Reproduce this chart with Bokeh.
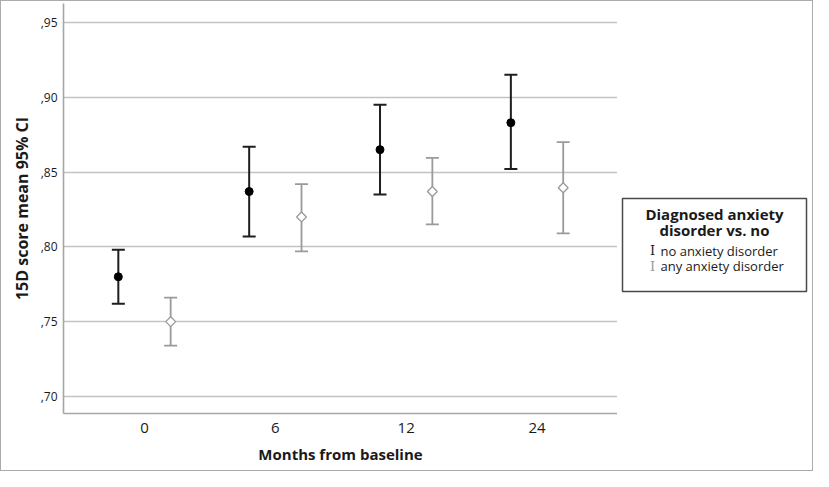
import math
from bokeh.plotting import figure
from bokeh.models import FixedTicker, Range1d, Label, Row, BoxAnnotation
from bokeh.embed import file_html
from bokeh.resources import INLINE

# ---- data ----
months = ["0", "6", "12", "24"]
no_mean = [0.780, 0.837, 0.865, 0.883]
no_low = [0.762, 0.807, 0.835, 0.852]
no_high = [0.798, 0.867, 0.895, 0.915]
any_mean = [0.750, 0.820, 0.837, 0.8395]
any_low = [0.734, 0.797, 0.815, 0.809]
any_high = [0.766, 0.842, 0.8595, 0.870]
y_ticks = [0.70, 0.75, 0.80, 0.85, 0.90, 0.95]
y_tick_labels = [",70", ",75", ",80", ",85", ",90", ",95"]
series_names = ["no anxiety disorder", "any anxiety disorder"]
legend_title = ["Diagnosed anxiety", "disorder vs. no"]

FONT = "Open Sans"
TXT = "#1a1a1a"
BLACK = "#1e1e1e"
GRAY = "#9a9a9a"

TOP, BOTTOM = 2, 57

p = figure(width=616, height=469, output_backend="svg", toolbar_location=None,
           x_range=Range1d(-0.619, 3.615), y_range=Range1d(0.6886, 0.9627),
           min_border_left=62, min_border_right=0, min_border_top=TOP,
           min_border_bottom=BOTTOM)
p.outline_line_color = None
p.background_fill_color = "white"
p.border_fill_color = "white"

p.xgrid.visible = False
p.ygrid.grid_line_color = "#c2c2c2"
p.ygrid.grid_line_width = 1.3

idx = list(range(len(months)))
p.xaxis.ticker = FixedTicker(ticks=idx)
p.xaxis.major_label_overrides = {i: m for i, m in zip(idx, months)}
p.yaxis.ticker = FixedTicker(ticks=y_ticks)
p.yaxis.major_label_overrides = {t: l for t, l in zip(y_ticks, y_tick_labels)}

for ax in (p.xaxis, p.yaxis):
    ax.axis_line_color = "#a6a6a6"
    ax.axis_line_width = 1.6
    ax.major_tick_line_color = None
    ax.minor_tick_line_color = None
    ax.major_tick_out = 0
    ax.major_tick_in = 0
    ax.major_label_text_font = FONT
    ax.major_label_text_color = TXT
    ax.axis_label_text_font = FONT
    ax.axis_label_text_font_style = "bold"
    ax.axis_label_text_color = TXT

p.xaxis.major_label_text_font_size = "15px"
p.yaxis.major_label_text_font_size = "12px"
p.xaxis.axis_label_text_font_size = "15px"
p.yaxis.axis_label_text_font_size = "16px"
p.xaxis.axis_label = "Months from baseline"
p.yaxis.axis_label = "15D score mean 95% CI"
p.xaxis.major_label_standoff = 9
p.yaxis.major_label_standoff = 6
p.xaxis.axis_label_standoff = 8
p.yaxis.axis_label_standoff = 5

off = 0.2
x_no = [i - off for i in idx]
x_any = [i + off for i in idx]

# black series
p.segment(x0=x_no, y0=no_low, x1=x_no, y1=no_high, line_color=BLACK, line_width=2)
p.scatter(x_no, no_high, marker="dash", size=13, line_color=BLACK, line_width=2)
p.scatter(x_no, no_low, marker="dash", size=13, line_color=BLACK, line_width=2)
p.scatter(x_no, no_mean, marker="circle", size=8, fill_color="black", line_color="black")

# gray series
p.segment(x0=x_any, y0=any_low, x1=x_any, y1=any_high, line_color=GRAY, line_width=1.8)
p.scatter(x_any, any_high, marker="dash", size=13, line_color=GRAY, line_width=1.8)
p.scatter(x_any, any_low, marker="dash", size=13, line_color=GRAY, line_width=1.8)
p.scatter(x_any, any_mean, marker="square", angle=math.pi / 4, size=7,
          fill_color="white", line_color=GRAY, line_width=1.3)

# ---- legend panel: same vertical frame as the main plot ----
FRAME_H = 469 - TOP - BOTTOM
lg = figure(width=195, height=469, output_backend="svg", toolbar_location=None,
            x_range=Range1d(0, 195), y_range=Range1d(0, FRAME_H),
            x_axis_type=None, y_axis_type=None,
            min_border_left=0, min_border_right=0, min_border_top=TOP,
            min_border_bottom=BOTTOM)
lg.grid.visible = False
lg.outline_line_color = None
lg.background_fill_color = "white"
lg.border_fill_color = "white"

# box at image y 198..291  (frame bottom at image 1+TOP+FRAME_H)
fb = 1 + TOP + FRAME_H
BX0, BX1, BY0, BY1 = 5, 189, fb - 291, fb - 198
lg.add_layout(BoxAnnotation(left=BX0, right=BX1, bottom=BY0, top=BY1,
                            left_units="screen", right_units="screen",
                            top_units="screen", bottom_units="screen",
                            fill_alpha=0, line_color="#4a4a4a", line_alpha=1.0,
                            line_width=1.5))
cx = (BX0 + BX1) / 2
for k, t in enumerate(legend_title):
    lg.add_layout(Label(x=cx, y=BY1 - 15.5 - 16 * k, x_units="screen", y_units="screen",
                        text=t, text_align="center", text_baseline="middle",
                        text_font=FONT, text_font_style="bold", text_font_size="15px",
                        text_color=TXT))
for k, (name, col) in enumerate(zip(series_names, [BLACK, GRAY])):
    yy = BY0 + 41 - 15.5 * k
    lg.add_layout(Label(x=BX0 + 30, y=yy, x_units="screen", y_units="screen", text="I",
                        text_align="center", text_baseline="middle",
                        text_font="DejaVu Serif", text_font_size="13px", text_color=col))
    lg.add_layout(Label(x=BX0 + 38, y=yy, x_units="screen", y_units="screen", text=name,
                        text_align="left", text_baseline="middle",
                        text_font=FONT, text_font_size="13px", text_color=TXT))

layout = Row(children=[p, lg], spacing=0,
             styles={"border": "1px solid #ababab", "background-color": "white"})

open("out.html", "w").write(file_html(layout, INLINE))
